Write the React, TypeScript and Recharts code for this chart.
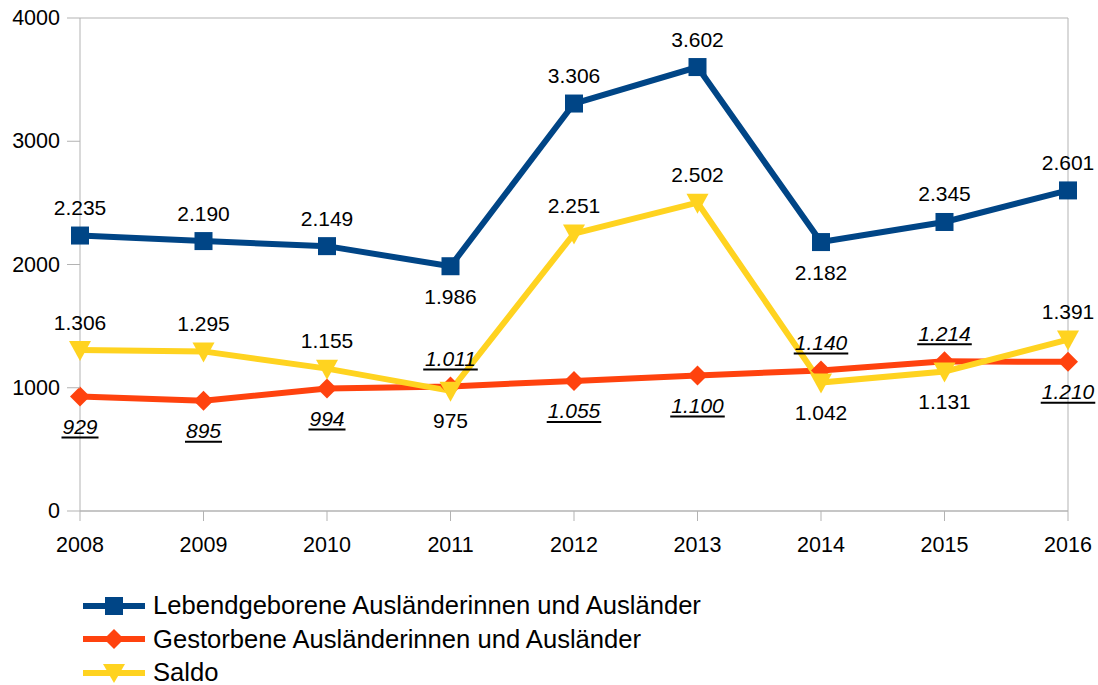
import { CartesianGrid, LabelList, Line, LineChart, ReferenceLine, XAxis, YAxis } from "recharts";

const years = [2008, 2009, 2010, 2011, 2012, 2013, 2014, 2015, 2016];
const lebend = [2235, 2190, 2149, 1986, 3306, 3602, 2182, 2345, 2601];
const gestorben = [929, 895, 994, 1011, 1055, 1100, 1140, 1214, 1210];
const saldo = [1306, 1295, 1155, 975, 2251, 2502, 1042, 1131, 1391];

// where each value label sits relative to its point
const lebendPos = ["top", "top", "top", "bottom", "top", "top", "bottom", "top", "top"];
const gestorbenPos = ["bottom", "bottom", "bottom", "top", "bottom", "bottom", "top", "top", "bottom"];
const saldoPos = ["top", "top", "top", "bottom", "top", "top", "bottom", "bottom", "top"];

const yTicks = [0, 1000, 2000, 3000, 4000];
const gridTicks = [0, 500, 1000, 1500, 2000, 2500, 3000, 3500, 4000];

const names = [
  "Lebendgeborene Ausländerinnen und Ausländer",
  "Gestorbene Ausländerinnen und Ausländer",
  "Saldo",
];

const BLUE = "#004586";
const RED = "#ff420e";
const YELLOW = "#ffd320";
const GRID = "#b3b3b3";
const FONT = "'Liberation Sans', Arial, sans-serif";
const LABEL_SIZE = 21;

const data = years.map((year, i) => ({
  year,
  lebend: lebend[i],
  gestorben: gestorben[i],
  saldo: saldo[i],
}));

const fmt = (v: number) => String(v).replace(/\B(?=(\d{3})+(?!\d))/g, ".");
// rough Arial width: digits 0.556em, dot 0.278em
const textWidth = (s: string, size: number) =>
  s.split("").reduce((w, c) => w + (c === "." ? 0.278 : 0.556), 0) * size;

function Square({ cx, cy }: any) {
  return <rect x={cx - 9} y={cy - 9} width={18} height={18} fill={BLUE} />;
}
function Diamond({ cx, cy }: any) {
  return <path d={`M${cx},${cy - 10}L${cx + 10},${cy}L${cx},${cy + 10}L${cx - 10},${cy}Z`} fill={RED} />;
}
function Triangle({ cx, cy }: any) {
  return <path d={`M${cx - 11},${cy - 9}L${cx + 11},${cy - 9}L${cx},${cy + 11}Z`} fill={YELLOW} />;
}

function makeLabel(values: number[], pos: string[], italic: boolean) {
  return (props: any) => {
    const { x, y, value } = props;
    const idx = typeof props.index === "number" ? props.index : values.indexOf(value);
    const cy = y + (pos[idx] === "top" ? -28 : 30);
    const s = fmt(value);
    const w = textWidth(s, LABEL_SIZE);
    return (
      <g>
        <text
          x={x}
          y={cy}
          textAnchor="middle"
          dominantBaseline="central"
          fontSize={LABEL_SIZE}
          fontFamily={FONT}
          fill="#000"
          fontStyle={italic ? "italic" : "normal"}
        >
          {s}
        </text>
        {italic && (
          <line x1={x - w / 2 - 1} x2={x + w / 2 + 1} y1={cy + 11} y2={cy + 11} stroke="#000" strokeWidth={2} />
        )}
      </g>
    );
  };
}

function YTick({ y, payload }: any) {
  return (
    <g>
      <line x1={67} x2={80} y1={y} y2={y} stroke={GRID} strokeWidth={1} />
      <text x={60} y={y} textAnchor="end" dominantBaseline="central" fontSize={21.5} fontFamily={FONT} fill="#000">
        {payload.value}
      </text>
    </g>
  );
}

function XTick({ x, payload }: any) {
  return (
    <g>
      <line x1={x} x2={x} y1={511} y2={521} stroke={GRID} strokeWidth={1} />
      <text x={x} y={545} textAnchor="middle" dominantBaseline="central" fontSize={21.5} fontFamily={FONT} fill="#000">
        {payload.value}
      </text>
    </g>
  );
}

function LegendRow({ color, name, marker }: { color: string; name: string; marker: string }) {
  return (
    <div style={{ display: "flex", alignItems: "center", height: 33.5 }}>
      <svg width={70} height={24} style={{ flex: "none" }}>
        <line x1={0} x2={62} y1={12} y2={12} stroke={color} strokeWidth={6} />
        {marker === "square" && <rect x={22} y={3} width={18} height={18} fill={color} />}
        {marker === "diamond" && <path d="M31,2L41,12L31,22L21,12Z" fill={color} />}
        {marker === "triangle" && <path d="M20,3L42,3L31,22Z" fill={color} />}
      </svg>
      <span style={{ fontSize: 25.6, fontFamily: FONT, color: "#000", whiteSpace: "nowrap" }}>{name}</span>
    </div>
  );
}

export default function App() {
  return (
    <div style={{ position: "absolute", left: 0, top: 0, width: 1098, height: 685, background: "#fff" }}>
      <LineChart width={1098} height={560} data={data} margin={{ top: 18, right: 30, bottom: 0, left: 0 }}>
        <CartesianGrid stroke={GRID} yAxisId="grid" vertical={false} />
        <XAxis
          dataKey="year"
          type="number"
          domain={[2008, 2016]}
          ticks={years}
          height={49}
          stroke={GRID}
          tickLine={false}
          tick={<XTick />}
          interval={0}
        />
        <YAxis yAxisId="grid" hide domain={[0, 4000]} ticks={gridTicks} width={80} />
        <YAxis
          domain={[0, 4000]}
          ticks={yTicks}
          width={80}
          stroke={GRID}
          tickLine={false}
          tick={<YTick />}
          interval={0}
        />
        <ReferenceLine x={2016} stroke={GRID} />
        <Line
          dataKey="lebend"
          stroke={BLUE}
          strokeWidth={6}
          dot={<Square />}
          activeDot={false}
          isAnimationActive={false}
        >
          <LabelList dataKey="lebend" content={makeLabel(lebend, lebendPos, false)} />
        </Line>
        <Line
          dataKey="gestorben"
          stroke={RED}
          strokeWidth={6}
          dot={<Diamond />}
          activeDot={false}
          isAnimationActive={false}
        >
          <LabelList dataKey="gestorben" content={makeLabel(gestorben, gestorbenPos, true)} />
        </Line>
        <Line
          dataKey="saldo"
          stroke={YELLOW}
          strokeWidth={6}
          dot={<Triangle />}
          activeDot={false}
          isAnimationActive={false}
        >
          <LabelList dataKey="saldo" content={makeLabel(saldo, saldoPos, false)} />
        </Line>
      </LineChart>
      <div style={{ position: "absolute", left: 83, top: 589 }}>
        <LegendRow color={BLUE} name={names[0]} marker="square" />
        <LegendRow color={RED} name={names[1]} marker="diamond" />
        <LegendRow color={YELLOW} name={names[2]} marker="triangle" />
      </div>
    </div>
  );
}
